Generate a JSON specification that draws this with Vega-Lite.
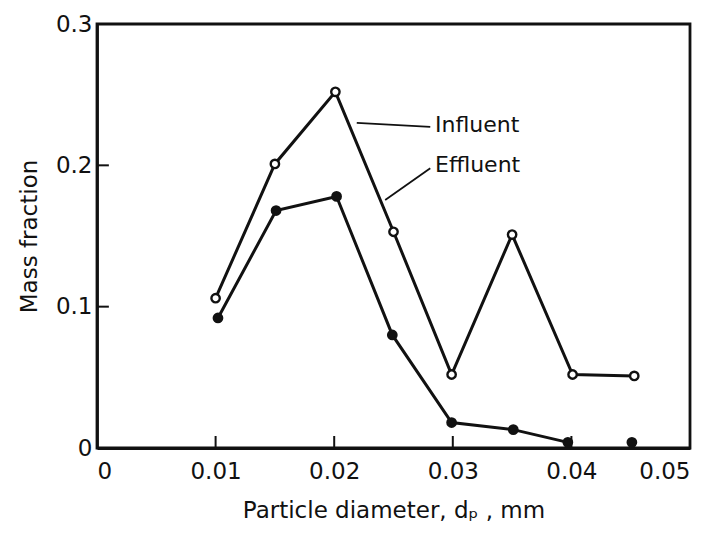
{
  "$schema": "https://vega.github.io/schema/vega-lite/v6.json",
  "autosize": "none",
  "width": 593,
  "height": 424,
  "padding": {"left": 97, "top": 24, "right": 30, "bottom": 92},
  "background": "white",
  "config": {
    "font": "DejaVu Sans",
    "view": {"stroke": "#111", "strokeWidth": 2.8},
    "axis": {
      "domainColor": "#111", "domainWidth": 2.8,
      "ticks": false,
      "labelFont": "DejaVu Sans", "labelFontSize": 23, "labelColor": "#111",
      "titleFont": "DejaVu Sans", "titleFontSize": 23, "titleFontWeight": "normal", "titleColor": "#111",
      "grid": false
    }
  },
  "datasets": {
    "series": [
      {"d": 0.0100, "f": 0.106, "s": "Influent", "connect": true},
      {"d": 0.0150, "f": 0.201, "s": "Influent", "connect": true},
      {"d": 0.0201, "f": 0.252, "s": "Influent", "connect": true},
      {"d": 0.0250, "f": 0.153, "s": "Influent", "connect": true},
      {"d": 0.0299, "f": 0.052, "s": "Influent", "connect": true},
      {"d": 0.0350, "f": 0.151, "s": "Influent", "connect": true},
      {"d": 0.0401, "f": 0.052, "s": "Influent", "connect": true},
      {"d": 0.0453, "f": 0.051, "s": "Influent", "connect": true},
      {"d": 0.0102, "f": 0.092, "s": "Effluent", "connect": true},
      {"d": 0.0151, "f": 0.168, "s": "Effluent", "connect": true},
      {"d": 0.0202, "f": 0.178, "s": "Effluent", "connect": true},
      {"d": 0.0249, "f": 0.080, "s": "Effluent", "connect": true},
      {"d": 0.0299, "f": 0.018, "s": "Effluent", "connect": true},
      {"d": 0.0351, "f": 0.013, "s": "Effluent", "connect": true},
      {"d": 0.0397, "f": 0.004, "s": "Effluent", "connect": true},
      {"d": 0.0451, "f": 0.004, "s": "Effluent", "connect": false}
    ],
    "leaders": [
      {"x1": 0.0219, "y1": 0.230, "x2": 0.0281, "y2": 0.2272},
      {"x1": 0.0243, "y1": 0.1755, "x2": 0.0281, "y2": 0.198}
    ],
    "labels": [
      {"x": 0.0285, "y": 0.2286, "t": "Influent"},
      {"x": 0.0285, "y": 0.200, "t": "Effluent"}
    ],
    "xticks": [
      {"x": 0.01, "y1": 0, "y2": 0.0085},
      {"x": 0.02, "y1": 0, "y2": 0.0085},
      {"x": 0.03, "y1": 0, "y2": 0.0085},
      {"x": 0.04, "y1": 0, "y2": 0.0085}
    ],
    "yticks": [
      {"y": 0.1, "x1": 0, "x2": 0.001},
      {"y": 0.2, "x1": 0, "x2": 0.001}
    ]
  },
  "layer": [
    {
      "data": {"name": "series"},
      "transform": [{"filter": "datum.connect"}],
      "mark": {"type": "line", "color": "#111", "strokeWidth": 3},
      "encoding": {
        "x": {"field": "d", "type": "quantitative",
          "scale": {"domain": [0, 0.05], "nice": false},
          "axis": {"values": [0, 0.01, 0.02, 0.03, 0.04, 0.05], "format": "~g", "labelPadding": 12,
            "title": "Particle diameter, dₚ , mm", "titlePadding": 16}},
        "y": {"field": "f", "type": "quantitative",
          "scale": {"domain": [0, 0.3], "nice": false},
          "axis": {"values": [0, 0.1, 0.2, 0.3], "format": "~g", "labelPadding": 5,
            "title": "Mass fraction", "titlePadding": 14}},
        "detail": {"field": "s"}
      }
    },
    {
      "data": {"name": "xticks"},
      "mark": {"type": "rule", "color": "#111", "strokeWidth": 2},
      "encoding": {
        "x": {"field": "x", "type": "quantitative"},
        "y": {"field": "y1", "type": "quantitative"},
        "y2": {"field": "y2"}
      }
    },
    {
      "data": {"name": "yticks"},
      "mark": {"type": "rule", "color": "#111", "strokeWidth": 2},
      "encoding": {
        "y": {"field": "y", "type": "quantitative"},
        "x": {"field": "x1", "type": "quantitative"},
        "x2": {"field": "x2"}
      }
    },
    {
      "data": {"name": "series"},
      "mark": {"type": "point", "shape": "circle", "size": 70, "strokeWidth": 2.4, "opacity": 1},
      "encoding": {
        "x": {"field": "d", "type": "quantitative"},
        "y": {"field": "f", "type": "quantitative"},
        "fill": {"field": "s", "type": "nominal",
          "scale": {"domain": ["Influent", "Effluent"], "range": ["white", "#111"]}, "legend": null},
        "stroke": {"value": "#111"}
      }
    },
    {
      "data": {"name": "leaders"},
      "mark": {"type": "rule", "color": "#111", "strokeWidth": 1.8},
      "encoding": {
        "x": {"field": "x1", "type": "quantitative"},
        "y": {"field": "y1", "type": "quantitative"},
        "x2": {"field": "x2"},
        "y2": {"field": "y2"}
      }
    },
    {
      "data": {"name": "labels"},
      "mark": {"type": "text", "align": "left", "baseline": "middle", "fontSize": 22, "font": "DejaVu Sans", "color": "#111"},
      "encoding": {
        "x": {"field": "x", "type": "quantitative"},
        "y": {"field": "y", "type": "quantitative"},
        "text": {"field": "t"}
      }
    }
  ]
}
